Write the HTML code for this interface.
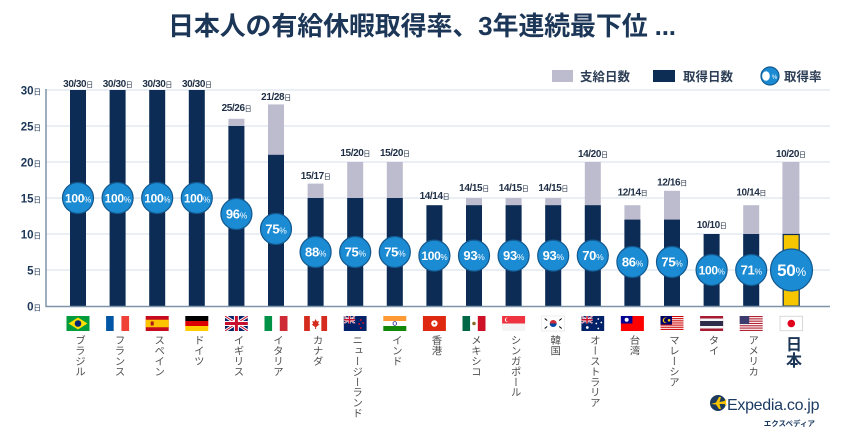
<!DOCTYPE html>
<html><head><meta charset="utf-8">
<style>
html,body{margin:0;padding:0;background:#fff;}
#wrap{position:relative;width:862px;height:441px;overflow:hidden;background:#fff;font-family:"Liberation Sans","Noto Sans CJK JP",sans-serif;}
svg{position:absolute;left:0;top:0;}
.vl{position:absolute;top:335px;width:14px;writing-mode:vertical-rl;font-size:10.4px;line-height:14px;color:#4d4d4d;font-family:"Liberation Sans","Noto Sans CJK JP",sans-serif;white-space:nowrap;}
.jp{position:absolute;top:336px;left:782px;width:18px;writing-mode:vertical-rl;font-size:16px;line-height:18px;font-weight:bold;color:#1b3557;font-family:"Liberation Sans","Noto Sans CJK JP",sans-serif;}
</style></head>
<body><div id="wrap">
<svg width="862" height="441" viewBox="0 0 862 441" font-family="Liberation Sans, Noto Sans CJK JP, sans-serif">
<defs>
<clipPath id="fc"><rect x="0" y="0" width="23" height="15"/></clipPath>
<symbol id="uj" viewBox="0 0 46 30" preserveAspectRatio="none">
<rect width="46" height="30" fill="#012169"/>
<path d="M0,0L46,30M46,0L0,30" stroke="#fff" stroke-width="6"/>
<path d="M0,0L46,30M46,0L0,30" stroke="#c8102e" stroke-width="2"/>
<path d="M23,0V30M0,15H46" stroke="#fff" stroke-width="10"/>
<path d="M23,0V30M0,15H46" stroke="#c8102e" stroke-width="6"/>
</symbol>
</defs>

<!-- title -->
<text x="168" y="35" font-size="26" font-weight="bold" fill="#1c3657" textLength="508" lengthAdjust="spacing">日本人の有給休暇取得率、3年連続最下位 ...</text>

<!-- legend -->
<rect x="552" y="70" width="21" height="12" fill="#bdbccf"/>
<text x="580" y="81" font-size="12.5" font-weight="bold" fill="#2c3e55">支給日数</text>
<rect x="653" y="70" width="22" height="12" fill="#0e2d55"/>
<text x="683" y="81" font-size="12.5" font-weight="bold" fill="#2c3e55">取得日数</text>
<circle cx="770" cy="76" r="9" fill="#1b8bd3" stroke="#13598f" stroke-width="1.2"/>
<ellipse cx="766" cy="76" rx="3.8" ry="4.8" fill="#fff"/>
<text x="774.5" y="79" font-size="6" fill="#fff" text-anchor="middle">%</text>
<text x="784" y="81" font-size="12.5" font-weight="bold" fill="#2c3e55">取得率</text>

<!-- grid -->
<g stroke="#dce5ee" stroke-width="1.2">
<line x1="46" y1="90" x2="830" y2="90"/>
<line x1="46" y1="126" x2="830" y2="126"/>
<line x1="46" y1="162" x2="830" y2="162"/>
<line x1="46" y1="198" x2="830" y2="198"/>
<line x1="46" y1="234" x2="830" y2="234"/>
<line x1="46" y1="270" x2="830" y2="270"/>
</g>

<!-- y labels -->
<g font-size="11.5" font-weight="bold" fill="#1c3657" text-anchor="end">
<text x="41" y="94.5">30<tspan font-size="7.5" font-weight="normal">日</tspan></text>
<text x="41" y="130.5">25<tspan font-size="7.5" font-weight="normal">日</tspan></text>
<text x="41" y="166.5">20<tspan font-size="7.5" font-weight="normal">日</tspan></text>
<text x="41" y="202.5">15<tspan font-size="7.5" font-weight="normal">日</tspan></text>
<text x="41" y="238.5">10<tspan font-size="7.5" font-weight="normal">日</tspan></text>
<text x="41" y="274.5">5<tspan font-size="7.5" font-weight="normal">日</tspan></text>
<text x="41" y="310.5">0<tspan font-size="7.5" font-weight="normal">日</tspan></text>
</g>

<!-- bars: given (gray) -->
<g fill="#bdbccf">
<rect x="228.4" y="118.8" width="16" height="187.2"/>
<rect x="268" y="104.4" width="16" height="201.6"/>
<rect x="307.6" y="183.6" width="16" height="122.4"/>
<rect x="347.2" y="162" width="16" height="144"/>
<rect x="386.8" y="162" width="16" height="144"/>
<rect x="466" y="198" width="16" height="108"/>
<rect x="505.6" y="198" width="16" height="108"/>
<rect x="545.2" y="198" width="16" height="108"/>
<rect x="584.8" y="162" width="16" height="144"/>
<rect x="624.4" y="205.2" width="16" height="100.8"/>
<rect x="664" y="190.8" width="16" height="115.2"/>
<rect x="743.2" y="205.2" width="16" height="100.8"/>
<rect x="782.4" y="162" width="17" height="144"/>
</g>
<!-- bars: taken (navy) -->
<g fill="#0c2c55">
<rect x="70" y="90" width="16" height="216"/>
<rect x="109.6" y="90" width="16" height="216"/>
<rect x="149.2" y="90" width="16" height="216"/>
<rect x="188.8" y="90" width="16" height="216"/>
<rect x="228.4" y="126" width="16" height="180"/>
<rect x="268" y="154.8" width="16" height="151.2"/>
<rect x="307.6" y="198" width="16" height="108"/>
<rect x="347.2" y="198" width="16" height="108"/>
<rect x="386.8" y="198" width="16" height="108"/>
<rect x="426.4" y="205.2" width="16" height="100.8"/>
<rect x="466" y="205.2" width="16" height="100.8"/>
<rect x="505.6" y="205.2" width="16" height="100.8"/>
<rect x="545.2" y="205.2" width="16" height="100.8"/>
<rect x="584.8" y="205.2" width="16" height="100.8"/>
<rect x="624.4" y="219.6" width="16" height="86.4"/>
<rect x="664" y="219.6" width="16" height="86.4"/>
<rect x="703.6" y="234" width="16" height="72"/>
<rect x="743.2" y="234" width="16" height="72"/>
</g>
<rect x="783.2" y="234.5" width="16" height="71.5" fill="#f6c600" stroke="#0c2c55" stroke-width="1.2"/>

<!-- axes -->
<line x1="46" y1="89" x2="46" y2="307" stroke="#7d93a8" stroke-width="1.5"/>
<line x1="45.5" y1="306.5" x2="830" y2="306.5" stroke="#7d93a8" stroke-width="1.5"/>

<!-- value labels -->
<g font-size="10" font-weight="bold" fill="#1f2f45" text-anchor="middle" letter-spacing="-0.4">
<text x="78" y="87">30/30<tspan font-size="7" font-weight="normal">日</tspan></text>
<text x="117.6" y="87">30/30<tspan font-size="7" font-weight="normal">日</tspan></text>
<text x="157.2" y="87">30/30<tspan font-size="7" font-weight="normal">日</tspan></text>
<text x="196.8" y="87">30/30<tspan font-size="7" font-weight="normal">日</tspan></text>
<text x="236.4" y="111">25/26<tspan font-size="7" font-weight="normal">日</tspan></text>
<text x="276" y="100">21/28<tspan font-size="7" font-weight="normal">日</tspan></text>
<text x="315.6" y="179">15/17<tspan font-size="7" font-weight="normal">日</tspan></text>
<text x="355.2" y="156">15/20<tspan font-size="7" font-weight="normal">日</tspan></text>
<text x="394.8" y="156">15/20<tspan font-size="7" font-weight="normal">日</tspan></text>
<text x="434.4" y="199">14/14<tspan font-size="7" font-weight="normal">日</tspan></text>
<text x="474" y="191">14/15<tspan font-size="7" font-weight="normal">日</tspan></text>
<text x="513.6" y="191">14/15<tspan font-size="7" font-weight="normal">日</tspan></text>
<text x="553.2" y="191">14/15<tspan font-size="7" font-weight="normal">日</tspan></text>
<text x="592.8" y="157">14/20<tspan font-size="7" font-weight="normal">日</tspan></text>
<text x="632.4" y="195.7">12/14<tspan font-size="7" font-weight="normal">日</tspan></text>
<text x="672" y="185.7">12/16<tspan font-size="7" font-weight="normal">日</tspan></text>
<text x="711.6" y="228">10/10<tspan font-size="7" font-weight="normal">日</tspan></text>
<text x="751.2" y="195.7">10/14<tspan font-size="7" font-weight="normal">日</tspan></text>
<text x="790.8" y="157">10/20<tspan font-size="7" font-weight="normal">日</tspan></text>
</g>

<!-- circles -->
<g fill="#1b8bd3" stroke="#13598f" stroke-width="1.2">
<circle cx="78" cy="198" r="15.5"/>
<circle cx="117.6" cy="198" r="15.5"/>
<circle cx="157.2" cy="198" r="15.5"/>
<circle cx="196.8" cy="198" r="15.5"/>
<circle cx="236.4" cy="214" r="15.5"/>
<circle cx="276" cy="229" r="15.5"/>
<circle cx="315.6" cy="252" r="15.5"/>
<circle cx="355.2" cy="252" r="15.5"/>
<circle cx="394.8" cy="252" r="15.5"/>
<circle cx="434.4" cy="255.6" r="15.5"/>
<circle cx="474" cy="255.6" r="15.5"/>
<circle cx="513.6" cy="255.6" r="15.5"/>
<circle cx="553.2" cy="255.6" r="15.5"/>
<circle cx="592.8" cy="255.6" r="15.5"/>
<circle cx="632.4" cy="262" r="15.5"/>
<circle cx="672" cy="262" r="15.5"/>
<circle cx="711.6" cy="270" r="15.5"/>
<circle cx="751.2" cy="270" r="15.5"/>
<circle cx="791.5" cy="270" r="21"/>
</g>
<g font-size="12" font-weight="bold" fill="#fff" text-anchor="middle" letter-spacing="-0.3">
<text x="78" y="202.5">100<tspan font-size="8" font-weight="normal">%</tspan></text>
<text x="117.6" y="202.5">100<tspan font-size="8" font-weight="normal">%</tspan></text>
<text x="157.2" y="202.5">100<tspan font-size="8" font-weight="normal">%</tspan></text>
<text x="196.8" y="202.5">100<tspan font-size="8" font-weight="normal">%</tspan></text>
<text x="236.4" y="218.5" font-size="13">96<tspan font-size="8.5" font-weight="normal">%</tspan></text>
<text x="276" y="233.5" font-size="13">75<tspan font-size="8.5" font-weight="normal">%</tspan></text>
<text x="315.6" y="256.5" font-size="13">88<tspan font-size="8.5" font-weight="normal">%</tspan></text>
<text x="355.2" y="256.5" font-size="13">75<tspan font-size="8.5" font-weight="normal">%</tspan></text>
<text x="394.8" y="256.5" font-size="13">75<tspan font-size="8.5" font-weight="normal">%</tspan></text>
<text x="434.4" y="260">100<tspan font-size="8" font-weight="normal">%</tspan></text>
<text x="474" y="260" font-size="13">93<tspan font-size="8.5" font-weight="normal">%</tspan></text>
<text x="513.6" y="260" font-size="13">93<tspan font-size="8.5" font-weight="normal">%</tspan></text>
<text x="553.2" y="260" font-size="13">93<tspan font-size="8.5" font-weight="normal">%</tspan></text>
<text x="592.8" y="260" font-size="13">70<tspan font-size="8.5" font-weight="normal">%</tspan></text>
<text x="632.4" y="266.5" font-size="13">86<tspan font-size="8.5" font-weight="normal">%</tspan></text>
<text x="672" y="266.5" font-size="13">75<tspan font-size="8.5" font-weight="normal">%</tspan></text>
<text x="711.6" y="274.5">100<tspan font-size="8" font-weight="normal">%</tspan></text>
<text x="751.2" y="274.5" font-size="13">71<tspan font-size="8.5" font-weight="normal">%</tspan></text>
<text x="791.5" y="276" font-size="17">50<tspan font-size="12" font-weight="normal">%</tspan></text>
</g>

<!-- flags -->
<g stroke="none">
<!-- Brazil -->
<g transform="translate(66.5,316)" clip-path="url(#fc)"><rect width="23" height="15" fill="#009b3a"/><polygon points="11.5,1.5 21,7.5 11.5,13.5 2,7.5" fill="#fedf00"/><circle cx="11.5" cy="7.5" r="3.3" fill="#002776"/></g>
<!-- France -->
<g transform="translate(106.1,316)"><rect width="7.7" height="15" fill="#0055a4"/><rect x="7.7" width="7.6" height="15" fill="#fff"/><rect x="15.3" width="7.7" height="15" fill="#ef4135"/></g>
<!-- Spain -->
<g transform="translate(145.7,316)"><rect width="23" height="15" fill="#c60b1e"/><rect y="3.75" width="23" height="7.5" fill="#ffc400"/><rect x="5" y="5.5" width="3" height="4" fill="#ad1519"/></g>
<!-- Germany -->
<g transform="translate(185.3,316)"><rect width="23" height="5" fill="#000"/><rect y="5" width="23" height="5" fill="#dd0000"/><rect y="10" width="23" height="5" fill="#ffce00"/></g>
<!-- UK -->
<g transform="translate(224.9,316)" clip-path="url(#fc)"><use href="#uj" width="23" height="15"/></g>
<!-- Italy -->
<g transform="translate(264.5,316)"><rect width="7.7" height="15" fill="#009246"/><rect x="7.7" width="7.6" height="15" fill="#fff"/><rect x="15.3" width="7.7" height="15" fill="#ce2b37"/></g>
<!-- Canada -->
<g transform="translate(304.1,316)"><rect width="23" height="15" fill="#fff"/><rect width="5.75" height="15" fill="#d52b1e"/><rect x="17.25" width="5.75" height="15" fill="#d52b1e"/><polygon points="11.5,3 12.8,5.5 14.8,5 14,8 15.5,8.5 12,11 12,13 11,13 11,11 7.5,8.5 9,8 8.2,5 10.2,5.5" fill="#d52b1e"/></g>
<!-- NZ -->
<g transform="translate(343.7,316)" clip-path="url(#fc)"><rect width="23" height="15" fill="#012169"/><use href="#uj" width="11.5" height="7.5"/><circle cx="17" cy="4" r="1" fill="#c8102e"/><circle cx="19.5" cy="7" r="1" fill="#c8102e"/><circle cx="15.5" cy="8" r="1" fill="#c8102e"/><circle cx="17" cy="12" r="1" fill="#c8102e"/></g>
<!-- India -->
<g transform="translate(383.3,316)"><rect width="23" height="5" fill="#ff9933"/><rect y="5" width="23" height="5" fill="#fff"/><rect y="10" width="23" height="5" fill="#138808"/><circle cx="11.5" cy="7.5" r="1.8" fill="none" stroke="#000080" stroke-width="0.7"/></g>
<!-- HK -->
<g transform="translate(422.9,316)"><rect width="23" height="15" fill="#de2910"/><circle cx="11.5" cy="7.5" r="3.2" fill="#fff"/><circle cx="11.5" cy="7.5" r="1" fill="#de2910"/></g>
<!-- Mexico -->
<g transform="translate(462.5,316)"><rect width="7.7" height="15" fill="#006847"/><rect x="7.7" width="7.6" height="15" fill="#fff"/><rect x="15.3" width="7.7" height="15" fill="#ce1126"/><circle cx="11.5" cy="7.5" r="1.8" fill="#8a6a2c"/></g>
<!-- Singapore -->
<g transform="translate(502.1,316)"><rect width="23" height="15" fill="#f4f4f4"/><rect width="23" height="7.5" fill="#ef3340"/><circle cx="5" cy="3.8" r="2.2" fill="#fff"/><circle cx="5.9" cy="3.8" r="2" fill="#ef3340"/></g>
<!-- Korea -->
<g transform="translate(541.7,316)"><rect width="23" height="15" fill="#fff" stroke="#ddd" stroke-width="0.5"/><path d="M8,7.5a3.5,3.5 0 0 1 7,0z" fill="#cd2e3a"/><path d="M8,7.5a3.5,3.5 0 0 0 7,0z" fill="#0047a0"/><g stroke="#000" stroke-width="1"><line x1="3" y1="2.5" x2="5.5" y2="4.5"/><line x1="17.5" y1="10.5" x2="20" y2="12.5"/><line x1="17.5" y1="4.5" x2="20" y2="2.5"/><line x1="3" y1="12.5" x2="5.5" y2="10.5"/></g></g>
<!-- Australia -->
<g transform="translate(581.3,316)" clip-path="url(#fc)"><rect width="23" height="15" fill="#012169"/><use href="#uj" width="11.5" height="7.5"/><circle cx="6" cy="11.5" r="1.4" fill="#fff"/><circle cx="17" cy="3" r="0.9" fill="#fff"/><circle cx="20" cy="6.5" r="0.9" fill="#fff"/><circle cx="15" cy="7.5" r="0.9" fill="#fff"/><circle cx="17" cy="12.5" r="0.9" fill="#fff"/></g>
<!-- Taiwan -->
<g transform="translate(620.9,316)"><rect width="23" height="15" fill="#fe0000"/><rect width="11.5" height="7.5" fill="#000095"/><circle cx="5.75" cy="3.75" r="2" fill="#fff"/></g>
<!-- Malaysia -->
<g transform="translate(660.5,316)"><rect width="23" height="15" fill="#fff"/><g fill="#cc0001"><rect y="0" width="23" height="1.07"/><rect y="2.14" width="23" height="1.07"/><rect y="4.28" width="23" height="1.07"/><rect y="6.42" width="23" height="1.07"/><rect y="8.56" width="23" height="1.07"/><rect y="10.7" width="23" height="1.07"/><rect y="12.84" width="23" height="1.07"/></g><rect width="11.5" height="8.56" fill="#010066"/><circle cx="5" cy="4.3" r="2.8" fill="#ffcc00"/><circle cx="5.9" cy="4.3" r="2.4" fill="#010066"/><circle cx="8.6" cy="4.3" r="1.3" fill="#ffcc00"/></g>
<!-- Thailand -->
<g transform="translate(700.1,316)"><rect width="23" height="15" fill="#a51931"/><rect y="2.5" width="23" height="10" fill="#f4f5f8"/><rect y="5" width="23" height="5" fill="#2d2a4a"/></g>
<!-- USA -->
<g transform="translate(739.7,316)"><rect width="23" height="15" fill="#fff"/><g fill="#b22234"><rect y="0" width="23" height="1.15"/><rect y="2.3" width="23" height="1.15"/><rect y="4.6" width="23" height="1.15"/><rect y="6.9" width="23" height="1.15"/><rect y="9.2" width="23" height="1.15"/><rect y="11.5" width="23" height="1.15"/><rect y="13.85" width="23" height="1.15"/></g><rect width="9.5" height="8.05" fill="#3c3b6e"/></g>
<!-- Japan -->
<g transform="translate(779.8,316)"><rect x="0.25" y="0.25" width="22.5" height="14.5" fill="#fff" stroke="#cfcfcf" stroke-width="0.8"/><circle cx="11.5" cy="7.5" r="3.8" fill="#e0001b"/></g>
</g>

<!-- logo -->
<circle cx="718" cy="403" r="8" fill="#1b3a5e"/>
<polygon points="711,404 716,402.5 719,397 721,397 719.5,402 724.5,401 725.5,399.5 726.5,399.5 726,402.5 726.5,405.5 725.5,405.5 724.5,404 719.5,404 721,409 719,409 716,404.5" fill="#f5c400"/>
<text x="727" y="410" font-size="16" fill="#1c3b63" letter-spacing="-0.3">Expedia.co.jp</text>
<text x="815" y="426" font-size="7.5" font-weight="bold" fill="#1c3b63" text-anchor="end">エクスペディア</text>
</svg>

<div class="vl" style="left:71px">ブラジル</div>
<div class="vl" style="left:110.6px">フランス</div>
<div class="vl" style="left:150.2px">スペイン</div>
<div class="vl" style="left:189.8px">ドイツ</div>
<div class="vl" style="left:229.4px">イギリス</div>
<div class="vl" style="left:269px">イタリア</div>
<div class="vl" style="left:308.6px">カナダ</div>
<div class="vl" style="left:348.2px">ニュージーランド</div>
<div class="vl" style="left:387.8px">インド</div>
<div class="vl" style="left:427.4px">香港</div>
<div class="vl" style="left:467px">メキシコ</div>
<div class="vl" style="left:506.6px">シンガポール</div>
<div class="vl" style="left:546.2px">韓国</div>
<div class="vl" style="left:585.8px">オーストラリア</div>
<div class="vl" style="left:625.4px">台湾</div>
<div class="vl" style="left:665px">マレーシア</div>
<div class="vl" style="left:704.6px">タイ</div>
<div class="vl" style="left:744.2px">アメリカ</div>
<div class="jp">日本</div>
</div></body></html>
